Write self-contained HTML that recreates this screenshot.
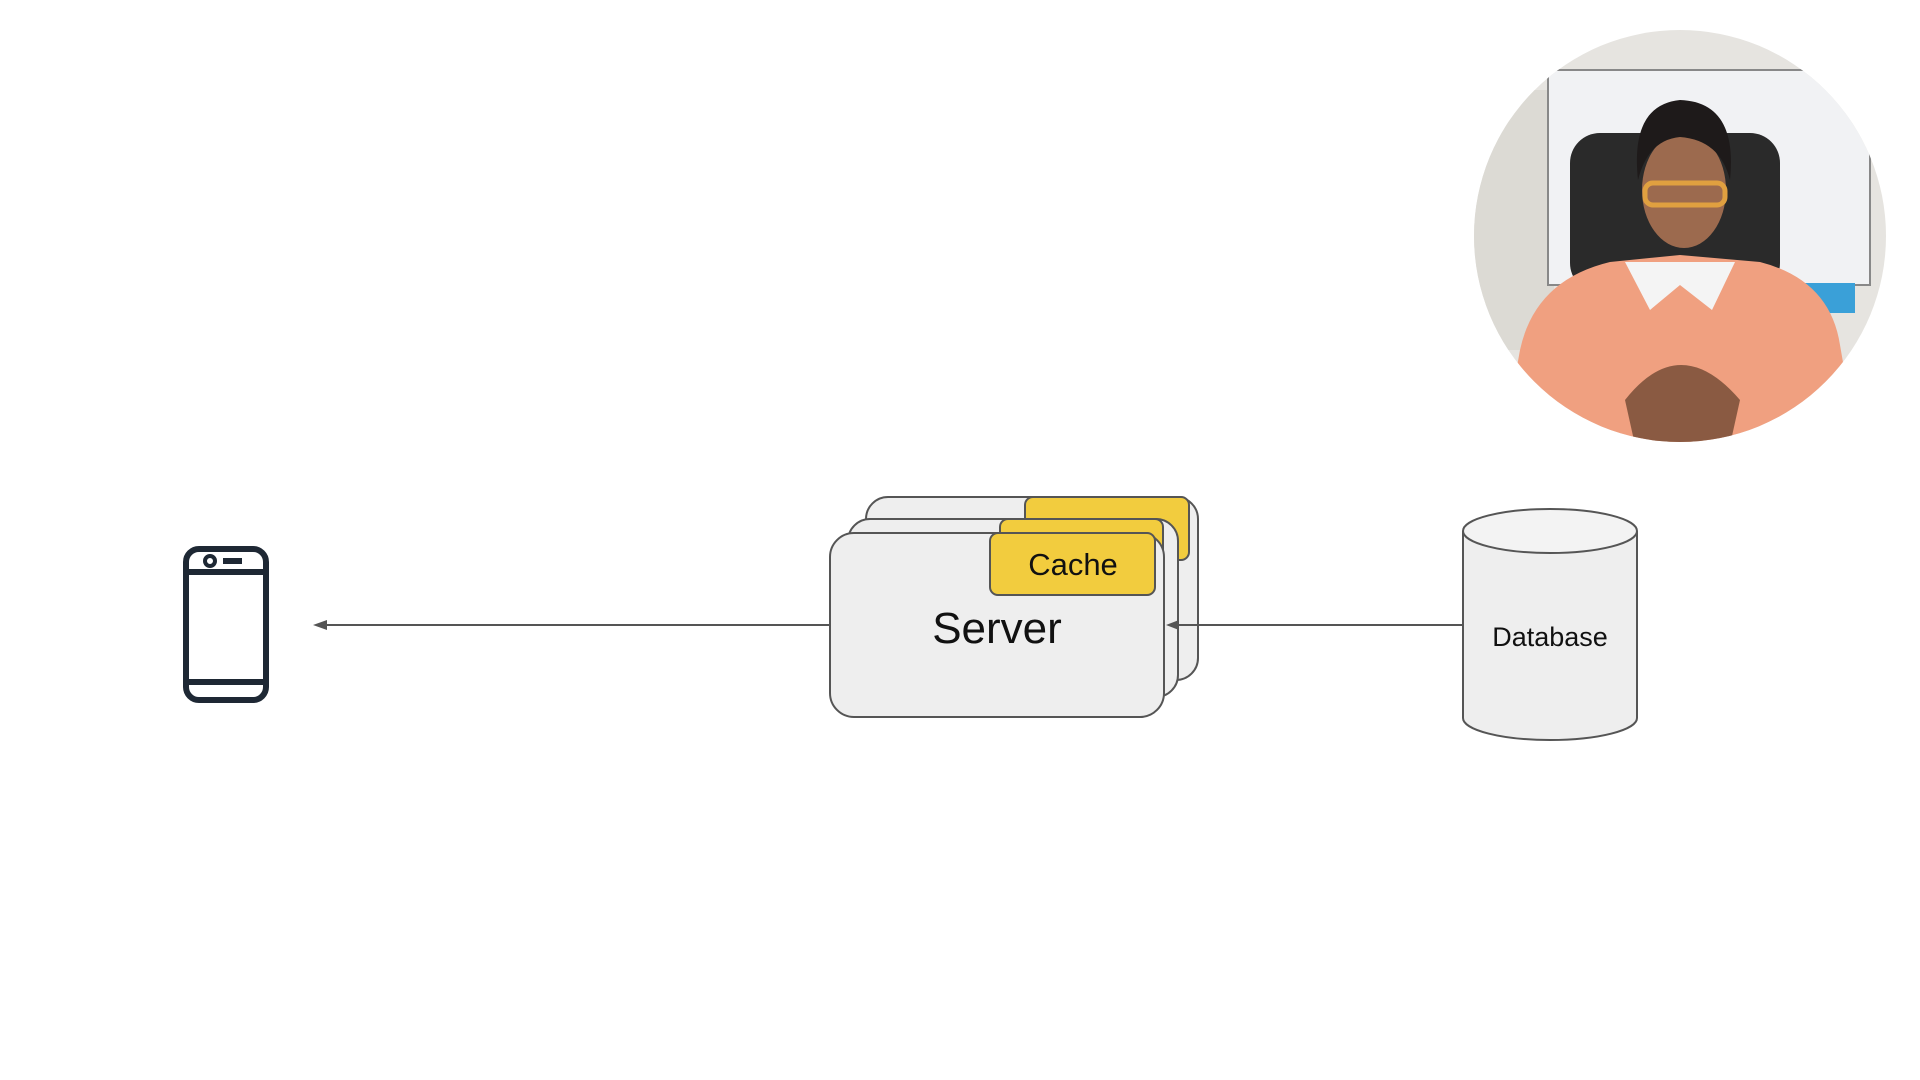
<!DOCTYPE html>
<html><head><style>
html,body{margin:0;padding:0;background:#fff;}
</style></head><body>
<svg width="1920" height="1080" viewBox="0 0 1920 1080" xmlns="http://www.w3.org/2000/svg" style="display:block">
<defs>
<clipPath id="c"><circle cx="1680" cy="236" r="206"/></clipPath>
</defs>
<rect width="1920" height="1080" fill="#fff"/>
<!-- phone -->
<rect x="186" y="549" width="80" height="151" rx="13" fill="none" stroke="#1e2834" stroke-width="6"/>
<line x1="186" y1="572" x2="266" y2="572" stroke="#1e2834" stroke-width="6"/>
<line x1="186" y1="682" x2="266" y2="682" stroke="#1e2834" stroke-width="6"/>
<circle cx="210" cy="561" r="5" fill="none" stroke="#1e2834" stroke-width="4"/>
<rect x="223" y="558" width="19" height="6" fill="#1e2834"/>
<!-- left arrow -->
<line x1="318" y1="625" x2="830" y2="625" stroke="#555" stroke-width="2"/>
<polygon points="313,625 327,620 327,630" fill="#555"/>
<!-- servers -->
<rect x="866" y="497" width="332" height="183" rx="22" fill="#eeeeee" stroke="#555" stroke-width="2"/>
<rect x="1025" y="497" width="164" height="63" rx="8" fill="#f2cc3e" stroke="#555" stroke-width="2"/>
<rect x="848" y="519" width="330" height="178" rx="22" fill="#eeeeee" stroke="#555" stroke-width="2"/>
<rect x="1000" y="519" width="163" height="62" rx="8" fill="#f2cc3e" stroke="#555" stroke-width="2"/>
<rect x="830" y="533" width="334" height="184" rx="24" fill="#eeeeee" stroke="#555" stroke-width="2"/>
<rect x="990" y="533" width="165" height="62" rx="8" fill="#f2cc3e" stroke="#555" stroke-width="2"/>
<text x="1073" y="575" text-anchor="middle" font-family="Liberation Sans, sans-serif" font-size="31" fill="#111">Cache</text>
<text x="997" y="643" text-anchor="middle" font-family="Liberation Sans, sans-serif" font-size="44" fill="#111">Server</text>
<!-- right arrow (drawn over servers) -->
<line x1="1176" y1="625" x2="1463" y2="625" stroke="#555" stroke-width="2"/>
<polygon points="1166,625 1179,620 1179,630" fill="#555"/>
<!-- database -->
<path d="M1463,531 L1463,718 A87,22 0 0 0 1637,718 L1637,531" fill="#eeeeee" stroke="#555" stroke-width="2"/>
<ellipse cx="1550" cy="531" rx="87" ry="22" fill="#f3f3f3" stroke="#555" stroke-width="2"/>
<text x="1550" y="654" text-anchor="middle" font-family="Liberation Sans, sans-serif" font-size="27" fill="#111" dy="-8">Database</text>
<!-- webcam circle -->
<g clip-path="url(#c)">
<rect x="1474" y="30" width="412" height="412" fill="#e6e4e0"/>
<rect x="1474" y="90" width="80" height="260" fill="#dcdad4"/>
<rect x="1548" y="70" width="322" height="215" fill="#f1f2f4" stroke="#888" stroke-width="2"/>
<rect x="1805" y="283" width="50" height="30" fill="#3aa0d8"/>
<rect x="1570" y="133" width="210" height="160" rx="30" fill="#2a2a2a"/>
<path d="M1520,350 Q1535,280 1610,262 L1680,255 L1760,262 Q1830,280 1840,345 L1860,460 L1500,460 Z" fill="#f0a080"/>
<path d="M1625,262 L1650,310 L1680,285 L1712,310 L1735,262 Z" fill="#f4f4f4"/>
<ellipse cx="1684" cy="190" rx="42" ry="58" fill="#9c6a4e"/>
<path d="M1638,180 Q1630,105 1680,100 Q1738,102 1730,180 Q1720,140 1680,137 Q1648,140 1638,180 Z" fill="#1e1a1a"/>
<rect x="1645" y="183" width="80" height="22" rx="8" fill="none" stroke="#e0a040" stroke-width="5"/>
<path d="M1625,400 Q1680,330 1740,400 L1730,445 L1635,445 Z" fill="#8a5a42"/>
</g>
</svg>
</body></html>
